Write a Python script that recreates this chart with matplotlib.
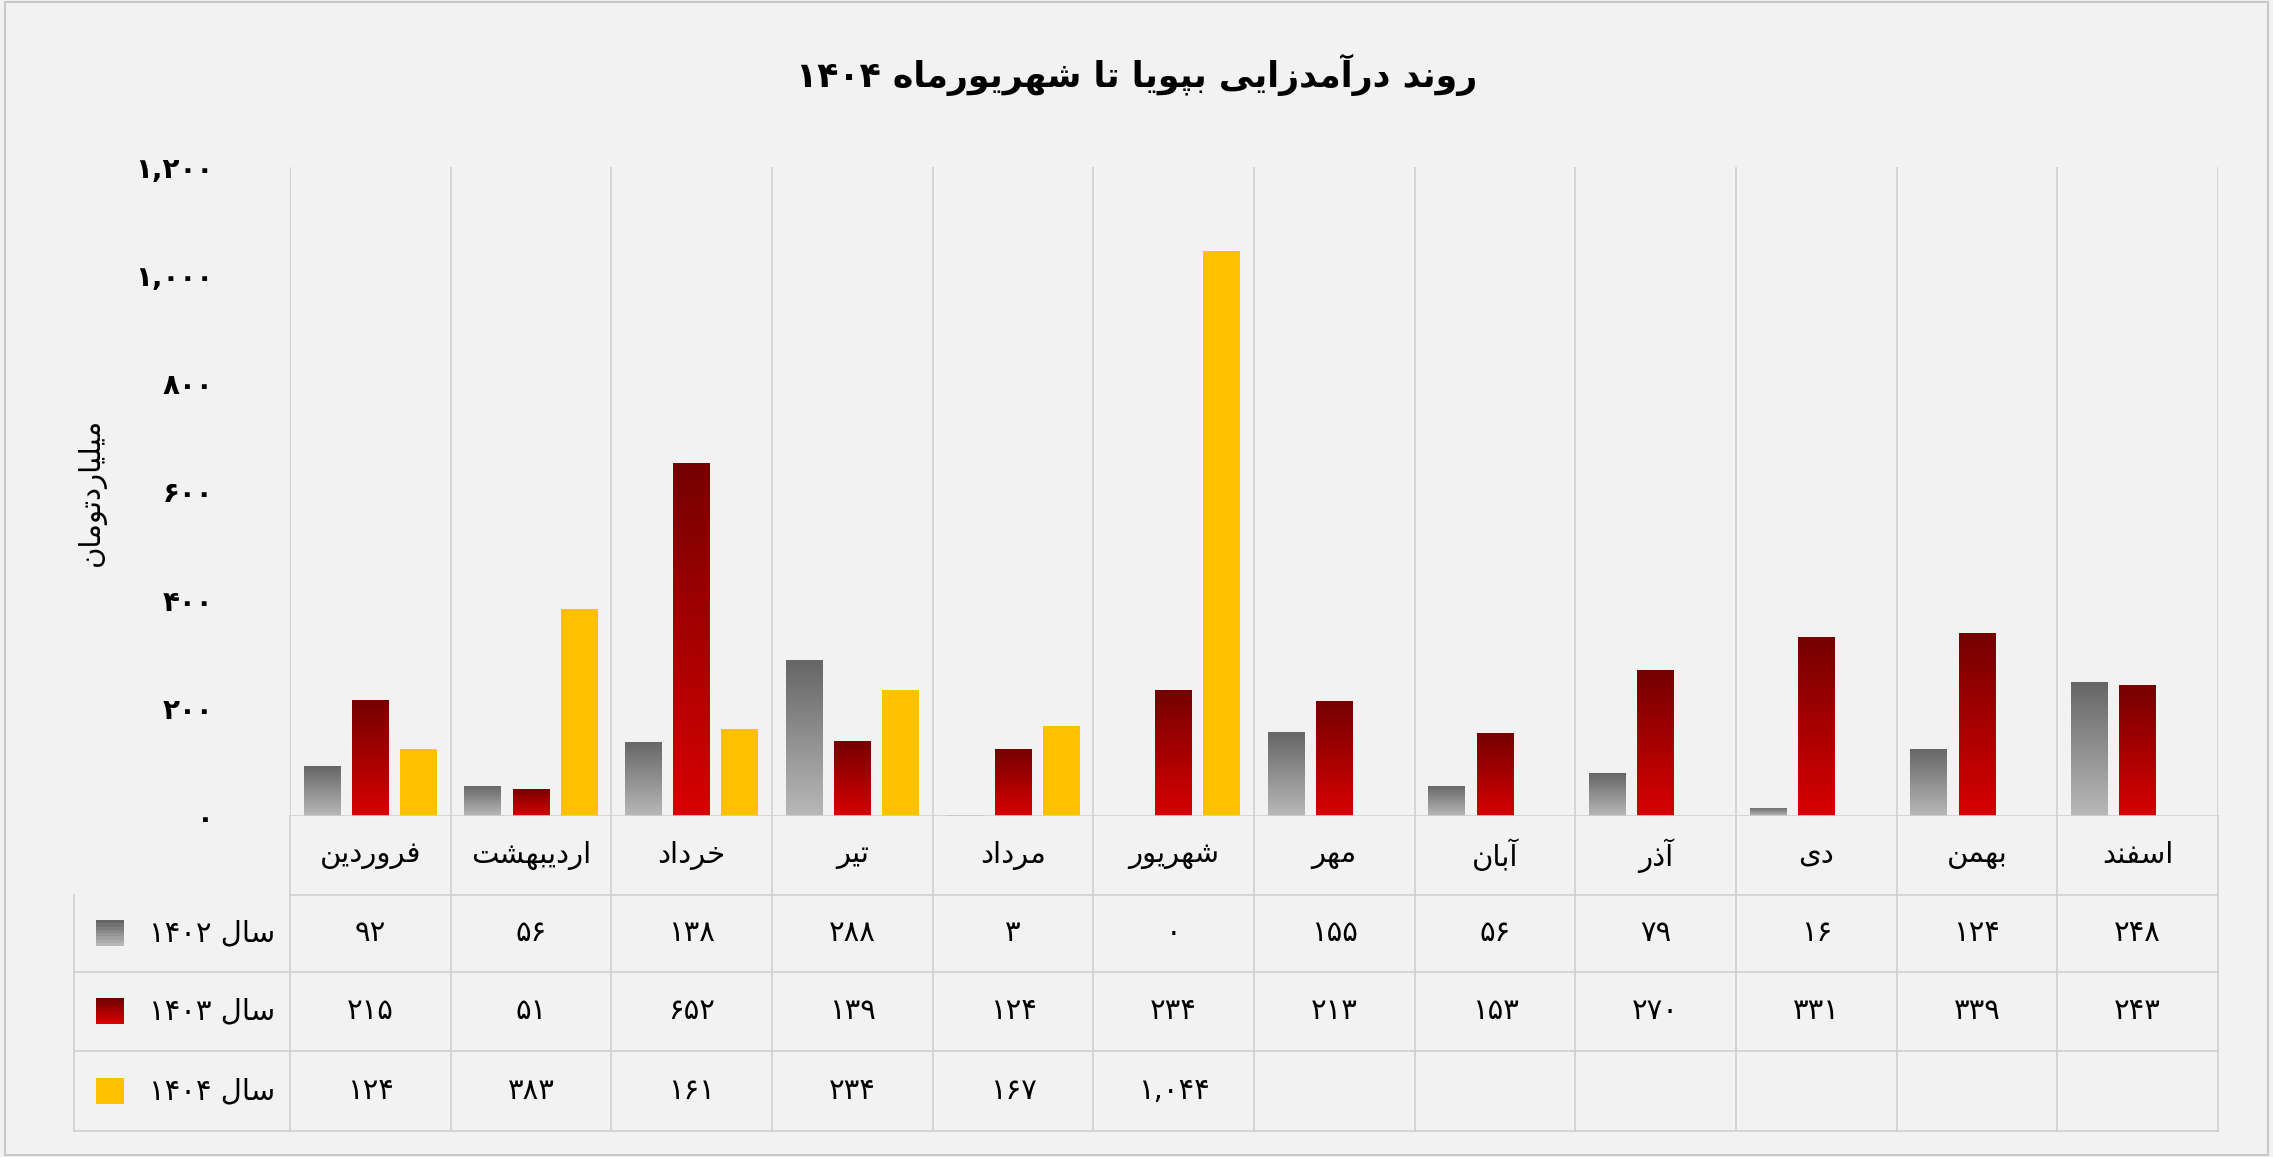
import matplotlib
matplotlib.use("Agg")
import matplotlib.pyplot as plt
import numpy as np
from matplotlib.patches import Rectangle

months = ["فروردین","اردیبهشت","خرداد","تیر","مرداد","شهریور","مهر","آبان","آذر","دی","بهمن","اسفند"]
v1402 = [92,56,138,288,3,0,155,56,79,16,124,248]
v1403 = [215,51,652,139,124,234,213,153,270,331,339,243]
v1404 = [124,383,161,234,167,1044]
series_names = ["سال ۱۴۰۲","سال ۱۴۰۳","سال ۱۴۰۴"]
title = "روند درآمدزایی بپویا تا شهریورماه ۱۴۰۴"
ylabel = "میلیاردتومان"
yticks = [0,200,400,600,800,1000,1200]

FORMS = {
 'ا':(0xFE8D,0xFE8E,None,None),'آ':(0xFE81,0xFE82,None,None),
 'ب':(0xFE8F,0xFE90,0xFE91,0xFE92),'ت':(0xFE95,0xFE96,0xFE97,0xFE98),
 'خ':(0xFEA5,0xFEA6,0xFEA7,0xFEA8),'د':(0xFEA9,0xFEAA,None,None),
 'ذ':(0xFEAB,0xFEAC,None,None),'ر':(0xFEAD,0xFEAE,None,None),
 'ز':(0xFEAF,0xFEB0,None,None),'س':(0xFEB1,0xFEB2,0xFEB3,0xFEB4),
 'ش':(0xFEB5,0xFEB6,0xFEB7,0xFEB8),'ف':(0xFED1,0xFED2,0xFED3,0xFED4),
 'ل':(0xFEDD,0xFEDE,0xFEDF,0xFEE0),'م':(0xFEE1,0xFEE2,0xFEE3,0xFEE4),
 'ن':(0xFEE5,0xFEE6,0xFEE7,0xFEE8),'ه':(0xFEE9,0xFEEA,0xFEEB,0xFEEC),
 'و':(0xFEED,0xFEEE,None,None),'ی':(0xFBFC,0xFBFD,0xFBFE,0xFBFF),
 'پ':(0xFB56,0xFB57,0xFB58,0xFB59),'ک':(0xFB8E,0xFB8F,0xFB90,0xFB91),
}
def joins_next(c):
    return c in FORMS and FORMS[c][2] is not None

def shape_word(w):
    if not any(c in FORMS for c in w):
        return w
    out = []
    for i, c in enumerate(w):
        if c not in FORMS:
            out.append(c); continue
        prev = w[i-1] if i > 0 else None
        nxt = w[i+1] if i+1 < len(w) else None
        jp = prev is not None and joins_next(prev)
        jn = nxt is not None and nxt in FORMS and joins_next(c)
        iso, fin, ini, med = FORMS[c]
        if jp and jn: f = med
        elif jp: f = fin
        elif jn: f = ini
        else: f = iso
        out.append(chr(f))
    return "".join(reversed(out))

def rtl(s):
    return " ".join(shape_word(w) for w in reversed(s.split(" ")))

def fa(n):
    s = f"{n:,}"
    return s.translate(str.maketrans("0123456789", "۰۱۲۳۴۵۶۷۸۹"))

FONT = "DejaVu Sans"
plt.rcParams["font.family"] = FONT
bg = "#f2f2f2"
fig = plt.figure(figsize=(22.73, 11.57), dpi=100, facecolor=bg)
ax = fig.add_axes([0.1276, 0.2945, 0.8482, 0.5615])
ax.set_facecolor(bg)
n = len(months)
x = np.arange(n)

def grad_bar(xc, h, w, ctop, cbot):
    if h <= 0: return
    r = Rectangle((xc-w/2, 0), w, h, facecolor="none", edgecolor="none")
    ax.add_patch(r)
    c1 = np.array(matplotlib.colors.to_rgb(ctop)); c2 = np.array(matplotlib.colors.to_rgb(cbot))
    t = np.linspace(0, 1, 64)[:, None]
    img = (c1*(1-t) + c2*t)[:, None, :]
    im = ax.imshow(img, extent=(xc-w/2, xc+w/2, 0, h), aspect="auto", origin="upper", zorder=2)
    im.set_clip_path(r)

w = 0.23
for i in range(n):
    grad_bar(x[i]-0.3, v1402[i], w, "#666666", "#b8b8b8")
    grad_bar(x[i], v1403[i], w, "#750000", "#d80000")
for i in range(len(v1404)):
    ax.bar(x[i]+0.3, v1404[i], w, color="#FFC000", zorder=2)
ax.set_xlim(-0.5, n-0.5); ax.set_ylim(0, 1200)

for s in ax.spines.values(): s.set_visible(False)
ax.set_xticks([])
ax.set_yticks(yticks)
ax.set_yticklabels([fa(v) for v in yticks], fontsize=20, fontweight="bold")
ax.tick_params(axis="y", length=0, pad=55)
for xv in np.arange(-0.5, n, 1.0):
    ax.axvline(xv, color="#d0d0d0", lw=1.2, zorder=1)
ax.axhline(0, color="#d0d0d0", lw=1.2)

tr = ax.get_xaxis_transform()
gc = "#d0d0d0"
rows_y = [0, -0.1205, -0.239, -0.362, -0.484]
xl_tab = -0.5 - 148/110.0
for k, yb in enumerate(rows_y[1:]):
    x0 = -0.5 if k == 0 else xl_tab
    ax.plot([x0, n-0.5], [yb, yb], color=gc, lw=1.2, transform=tr, clip_on=False)
ax.plot([xl_tab, xl_tab], [rows_y[1], rows_y[4]], color=gc, lw=1.2, transform=tr, clip_on=False)
for xv in np.arange(-0.5, n, 1.0):
    ax.plot([xv, xv], [0, rows_y[4]], color=gc, lw=1.2, transform=tr, clip_on=False)

fs = 21
for i, m in enumerate(months):
    ax.text(x[i], (rows_y[0]+rows_y[1])/2, rtl(m), ha="center", va="center", fontsize=fs, transform=tr)
data = [v1402, v1403, v1404]
cols = [("#666666", "#b8b8b8"), ("#750000", "#d80000"), ("#FFC000", "#FFC000")]
for r in range(3):
    yc = (rows_y[r+1]+rows_y[r+2])/2
    for i, v in enumerate(data[r]):
        ax.text(x[i], yc, fa(v), ha="center", va="center", fontsize=fs, transform=tr)
    ax.text(-0.5-0.09, yc, rtl(series_names[r]), ha="right", va="center", fontsize=fs, transform=tr)
    sq_x = xl_tab + 15/110.0
    for j in range(8):
        c = np.array(matplotlib.colors.to_rgb(cols[r][0]))*(1-j/7) + np.array(matplotlib.colors.to_rgb(cols[r][1]))*(j/7)
        ax.add_patch(Rectangle((sq_x, yc+0.02-0.04*(j+1)/8), 19/110.0, 0.04/8, transform=tr,
                               facecolor=c, edgecolor="none", clip_on=False))

fig.text(0.5, 0.935, rtl(title), ha="center", va="center", fontsize=25, fontweight="bold")
fig.text(0.04, 0.575, rtl(ylabel), rotation=90, ha="center", va="center", fontsize=21)
fig.add_artist(Rectangle((0.002, 0.002), 0.996, 0.996, transform=fig.transFigure, fill=False, edgecolor="#c8c8c8", lw=1.5))

fig.savefig("out.png", dpi=100, facecolor=bg)
